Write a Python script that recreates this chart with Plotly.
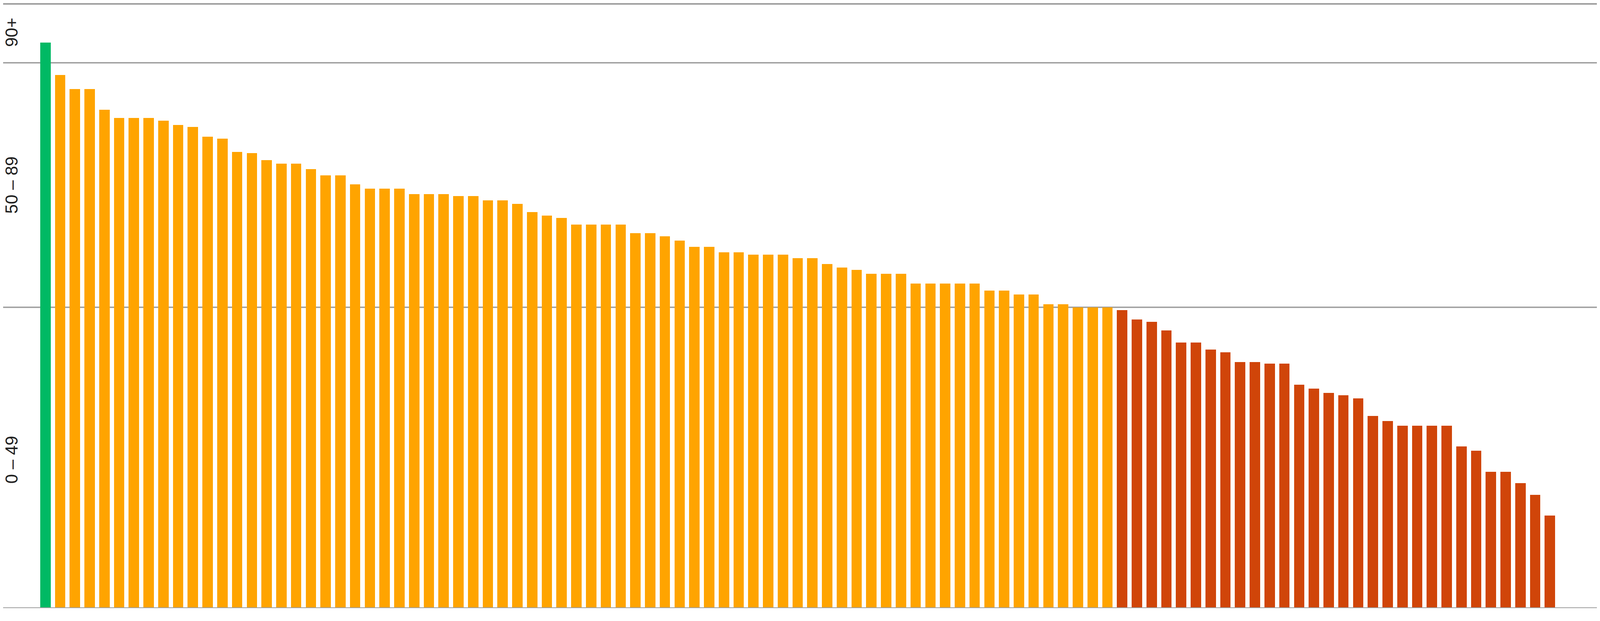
import plotly.graph_objects as go

# scores per page, sorted high to low
scores = [
    93.3, 88.0, 85.7, 85.7, 82.3, 81.0, 81.0, 81.0, 80.5, 79.8,
    79.5, 77.9, 77.6, 75.4, 75.2, 74.1, 73.5, 73.5, 72.6, 71.6,
    71.6, 70.1, 69.4, 69.4, 69.4, 68.5, 68.5, 68.5, 68.2, 68.2,
    67.5, 67.5, 66.9, 65.6, 65.0, 64.6, 63.5, 63.5, 63.5, 63.5,
    62.1, 62.1, 61.6, 60.9, 59.9, 59.9, 59.0, 59.0, 58.6, 58.6,
    58.6, 58.0, 58.0, 57.1, 56.5, 56.1, 55.5, 55.5, 55.5, 53.9,
    53.9, 53.9, 53.9, 53.9, 52.7, 52.7, 52.1, 52.1, 50.5, 50.5,
    50.0, 50.0, 50.0, 49.5, 48.0, 47.6, 46.2, 44.2, 44.2, 43.1,
    42.6, 41.0, 41.0, 40.8, 40.8, 37.3, 36.7, 36.0, 35.6, 35.1,
    32.2, 31.4, 30.6, 30.6, 30.6, 30.6, 27.2, 26.5, 23.1, 23.1,
    21.2, 19.3, 15.9,
]

# score bands: lower bound, label, colour
band_lows = [0, 50, 90]
band_labels = ["0 – 49", "50 – 89", "90+"]
band_mids = [25, 70, 95]
band_colors = ["#d04509", "#ffa400", "#00b964"]
grid_vals = [50, 90]


def band_color(v):
    c = band_colors[0]
    for low, col in zip(band_lows, band_colors):
        if v >= low:
            c = col
    return c


x = list(range(len(scores)))
colors = [band_color(v) for v in scores]

fig = go.Figure(go.Bar(
    x=x, y=scores, width=0.706,
    marker=dict(color=colors, line=dict(width=0)),
    hoverinfo="y",
))

for g in grid_vals:
    fig.add_hline(y=g, line=dict(color="#9e9e9e", width=3.5), layer="below")

# band labels, rotated, sitting at the left edge of the plot
for lab, mid in zip(band_labels, band_mids):
    fig.add_annotation(
        text=lab, x=0, xref="paper", y=mid, yref="y",
        xanchor="left", yanchor="middle", textangle=-90,
        showarrow=False, xshift=-5,
        font=dict(family="Liberation Sans, Arial, sans-serif", size=44, color="#202020"),
    )

fig.update_layout(
    width=4081, height=1549,
    margin=dict(l=0, r=0, t=0, b=2),
    paper_bgcolor="white", plot_bgcolor="white",
    showlegend=False, bargap=0,
)
# axis line on the bottom, mirrored to give the top rule
fig.update_xaxes(range=[-2.865, 105.21], showgrid=False, showticklabels=False,
                 zeroline=False, showline=True, mirror=True,
                 linecolor="#9e9e9e", linewidth=3.5)
fig.update_yaxes(range=[0.89, 99.51], showgrid=False, showticklabels=False,
                 zeroline=False)

fig.write_html("out.html")
